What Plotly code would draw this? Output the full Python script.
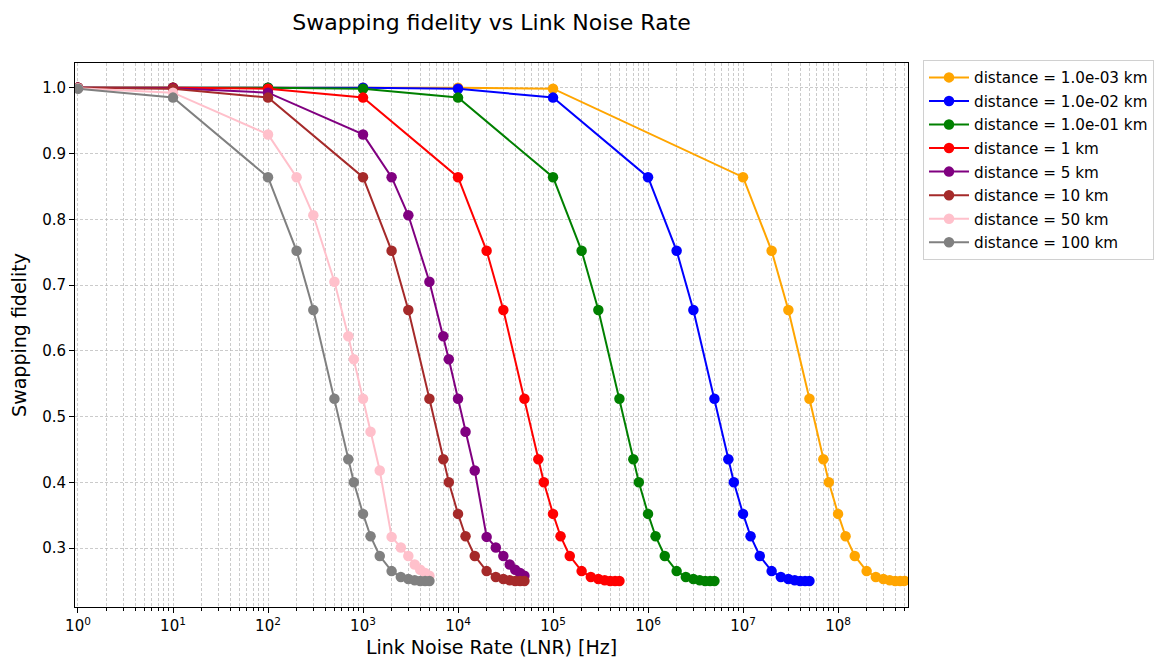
import numpy as np
import plotly.graph_objects as go

# ---- data ----
labels = ["distance = 1.0e-03 km", "distance = 1.0e-02 km", "distance = 1.0e-01 km",
          "distance = 1 km", "distance = 5 km", "distance = 10 km",
          "distance = 50 km", "distance = 100 km"]
colors = ["#FFA500", "#0000FF", "#008000", "#FF0000", "#800080", "#A52A2A", "#FFC0CB", "#808080"]

x_d0001 = [1, 10, 100, 1e3, 1e4, 1e5, 1e7, 2e7, 3e7, 5e7, 7e7, 8e7, 1e8, 1.2e8, 1.5e8,
           2e8, 2.5e8, 3e8, 3.5e8, 4e8, 4.5e8, 5e8]
y_d0001 = [1.0, 1.0, 1.0, 1.0, 0.9999, 0.9985, 0.864, 0.752, 0.662, 0.527, 0.435, 0.400,
           0.352, 0.318, 0.288, 0.265, 0.256, 0.253, 0.251, 0.250, 0.250, 0.250]

x_d001 = [1, 10, 100, 1e3, 1e4, 1e5, 1e6, 2e6, 3e6, 5e6, 7e6, 8e6, 1e7, 1.2e7, 1.5e7,
          2e7, 2.5e7, 3e7, 3.5e7, 4e7, 4.5e7, 5e7]
y_d001 = [1.0, 1.0, 1.0, 0.9999, 0.9985, 0.985, 0.864, 0.752, 0.662, 0.527, 0.435, 0.400,
          0.352, 0.318, 0.288, 0.265, 0.256, 0.253, 0.251, 0.250, 0.250, 0.250]

x_d01 = [1, 10, 100, 1e3, 1e4, 1e5, 2e5, 3e5, 5e5, 7e5, 8e5, 1e6, 1.2e6, 1.5e6,
         2e6, 2.5e6, 3e6, 3.5e6, 4e6, 4.5e6, 5e6]
y_d01 = [1.0, 1.0, 0.9999, 0.9985, 0.985, 0.864, 0.752, 0.662, 0.527, 0.435, 0.400,
         0.352, 0.318, 0.288, 0.265, 0.256, 0.253, 0.251, 0.250, 0.250, 0.250]

x_d1 = [1, 10, 100, 1e3, 1e4, 2e4, 3e4, 5e4, 7e4, 8e4, 1e5, 1.2e5, 1.5e5,
        2e5, 2.5e5, 3e5, 3.5e5, 4e5, 4.5e5, 5e5]
y_d1 = [1.0, 0.9999, 0.9985, 0.985, 0.864, 0.752, 0.662, 0.527, 0.435, 0.400,
        0.352, 0.318, 0.288, 0.265, 0.256, 0.253, 0.251, 0.250, 0.250, 0.250]

x_d5 = [1, 10, 100, 1e3, 2e3, 3e3, 5e3, 7e3, 8e3, 1e4, 1.2e4, 1.5e4,
        2e4, 2.5e4, 3e4, 3.5e4, 4e4, 4.5e4, 5e4]
y_d5 = [0.9999, 0.9993, 0.9925, 0.929, 0.864, 0.806, 0.705, 0.622, 0.587, 0.527, 0.477, 0.418,
        0.317, 0.301, 0.288, 0.275, 0.267, 0.262, 0.258]

x_d10 = [1, 10, 100, 1e3, 2e3, 3e3, 5e3, 7e3, 8e3, 1e4, 1.2e4, 1.5e4,
         2e4, 2.5e4, 3e4, 3.5e4, 4e4, 4.5e4, 5e4]
y_d10 = [0.9999, 0.9985, 0.985, 0.864, 0.752, 0.662, 0.527, 0.435, 0.400,
         0.352, 0.318, 0.288, 0.265, 0.256, 0.253, 0.251, 0.250, 0.250, 0.250]

x_d50 = [1, 10, 100, 200, 300, 500, 700, 800, 1000, 1200, 1500,
         2000, 2500, 3000, 3500, 4000, 4500, 5000]
y_d50 = [0.9993, 0.9925, 0.929, 0.864, 0.806, 0.705, 0.622, 0.587, 0.527, 0.477, 0.418,
         0.317, 0.301, 0.288, 0.275, 0.267, 0.262, 0.258]

x_d100 = [1, 10, 100, 200, 300, 500, 700, 800, 1000, 1200, 1500,
          2000, 2500, 3000, 3500, 4000, 4500, 5000]
y_d100 = [0.9985, 0.985, 0.864, 0.752, 0.662, 0.527, 0.435, 0.400, 0.352, 0.318, 0.288,
          0.265, 0.256, 0.253, 0.251, 0.250, 0.250, 0.250]

xs = [x_d0001, x_d001, x_d01, x_d1, x_d5, x_d10, x_d50, x_d100]
ys = [y_d0001, y_d001, y_d01, y_d1, y_d5, y_d10, y_d50, y_d100]

major_ticks = [1, 10, 100, 1e3, 1e4, 1e5, 1e6, 1e7, 1e8]
major_text = ["10<sup>%d</sup>" % i for i in range(9)]
minor_ticks = [m * 10 ** e for e in range(9) for m in range(2, 10) if m * 10 ** e < 5.5e8]

FONT = "DejaVu Sans"
fig = go.Figure()
for i in range(8):
    fig.add_trace(go.Scatter(
        x=xs[i], y=ys[i], mode="lines+markers", name=labels[i],
        legendgroup="g%d" % i,
        line=dict(color=colors[i], width=2),
        marker=dict(color=colors[i], size=10.5),
    ))

grid_col = "rgba(185,185,185,0.75)"
fig.update_layout(
    width=1164, height=663,
    margin=dict(l=75, r=256, t=63, b=56, autoexpand=False),
    paper_bgcolor="white", plot_bgcolor="white",
    font=dict(family=FONT, color="black", size=15),
    title=dict(text="Swapping fidelity vs Link Noise Rate", x=0.5, xref="paper",
               xanchor="center", y=1 - 22 / 663, yanchor="middle",
               font=dict(size=22, family=FONT, color="black")),
    showlegend=True,
    legend=dict(x=(923 - 75) / 833, xanchor="left", y=1.0 + 3 / 544, yanchor="top",
                bgcolor="white", bordercolor="#d0d0d0", borderwidth=1,
                font=dict(size=15.2, family=FONT), tracegroupgap=0.8,
                itemwidth=40),
    xaxis=dict(type="log", range=[np.log10(0.93), np.log10(5.45e8)],
               tickvals=major_ticks, ticktext=major_text,
               ticks="outside", ticklen=5, tickwidth=1, tickcolor="black",
               showline=True, linecolor="black", linewidth=1, mirror=True,
               showgrid=True, gridcolor=grid_col, griddash="3px,2px", gridwidth=0.8,
               zeroline=False,
               tickfont=dict(size=15, family=FONT),
               title=dict(text="Link Noise Rate (LNR) [Hz]", font=dict(size=19, family=FONT),
                          standoff=6),
               minor=dict(tickvals=minor_ticks, ticks="outside", ticklen=3, tickcolor="black",
                          showgrid=True, gridcolor=grid_col, griddash="3px,2px", gridwidth=0.6)),
    yaxis=dict(range=[0.2104, 1.0376], tickvals=[0.3, 0.4, 0.5, 0.6, 0.7, 0.8, 0.9, 1.0],
               ticktext=["0.3", "0.4", "0.5", "0.6", "0.7", "0.8", "0.9", "1.0"],
               ticks="outside", ticklen=5, tickwidth=1, tickcolor="black",
               showline=True, linecolor="black", linewidth=1, mirror=True,
               showgrid=True, gridcolor=grid_col, griddash="3px,2px", gridwidth=0.8,
               zeroline=False,
               tickfont=dict(size=15, family=FONT),
               title=dict(text="Swapping fidelity", font=dict(size=19, family=FONT),
                          standoff=10)),
)
fig.write_html("out.html")
